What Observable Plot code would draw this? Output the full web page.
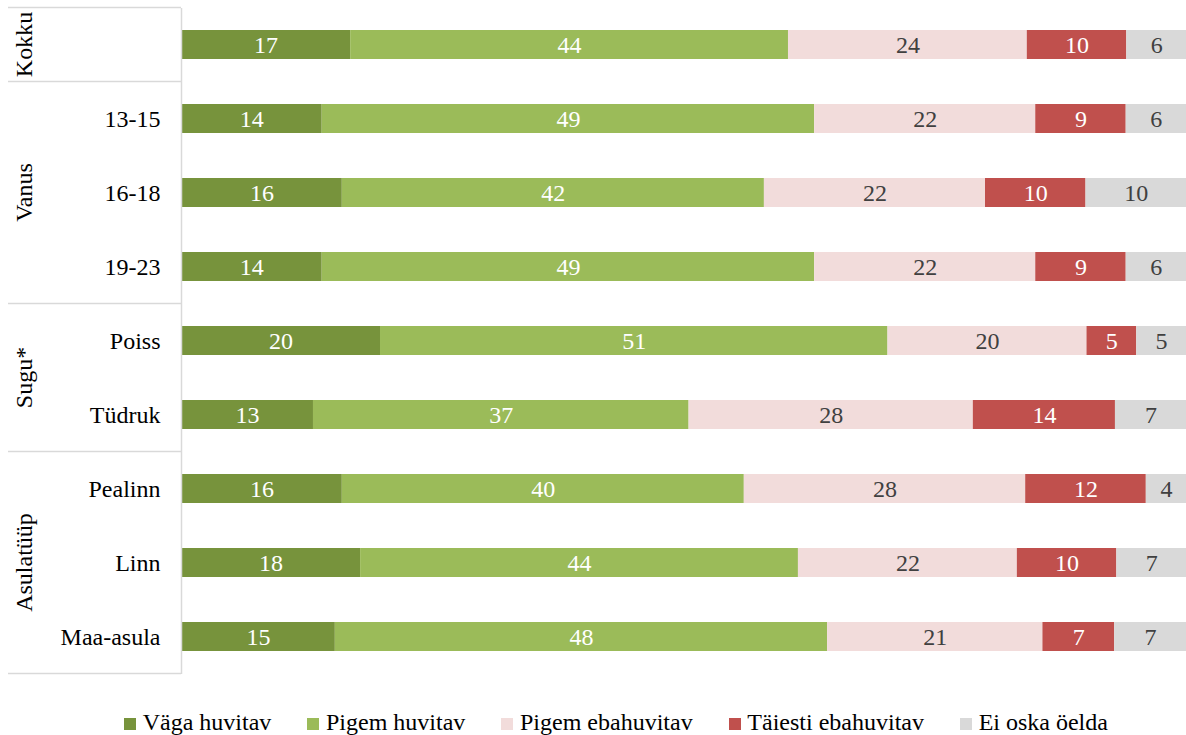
<!DOCTYPE html>
<html>
<head>
<meta charset="utf-8">
<script src="https://cdn.jsdelivr.net/npm/d3@7"></script>
<script src="https://cdn.jsdelivr.net/npm/@observablehq/plot@0.6"></script>
</head>
<body style="margin:0;padding:0;background:#fff;width:1186px;height:735px;overflow:hidden;font-family:'Liberation Serif'">
<div style="position:absolute;left:0;top:0;width:1px;height:0;overflow:hidden;font-family:'Liberation Serif';font-size:1px;color:#fff">.</div>
<div id="chart"></div>
<div id="legend"></div>
<script>
// ---- Data ----
const categories = ["Väga huvitav", "Pigem huvitav", "Pigem ebahuvitav", "Täiesti ebahuvitav", "Ei oska öelda"];
const colors = ["#77933C", "#9BBB59", "#F2DCDB", "#C0504D", "#D9D9D9"];
const labelColors = ["#FFFFFF", "#FFFFFF", "#404040", "#FFFFFF", "#404040"];

const rows = ["Kokku", "13-15", "16-18", "19-23", "Poiss", "Tüdruk", "Pealinn", "Linn", "Maa-asula"];
const groupNames = ["Kokku", "Vanus", "Sugu*", "Asulatüüp"];
const groupSizes = [1, 3, 2, 3];

const vagaHuvitav       = [17, 14, 16, 14, 20, 13, 16, 18, 15];
const pigemHuvitav      = [44, 49, 42, 49, 51, 37, 40, 44, 48];
const pigemEbahuvitav   = [24, 22, 22, 22, 20, 28, 28, 22, 21];
const taiestiEbahuvitav = [10,  9, 10,  9,  5, 14, 12, 10,  7];
const eiOskaOelda       = [ 6,  6, 10,  6,  5,  7,  4,  7,  7];

const series = [vagaHuvitav, pigemHuvitav, pigemEbahuvitav, taiestiEbahuvitav, eiOskaOelda];

// long table
const data = [];
rows.forEach((row, i) => {
  categories.forEach((cat, j) => {
    data.push({row, cat, ci: j, value: series[j][i]});
  });
});

const font = "Liberation Serif";
const stackOpts = {x: "value", y: "row", z: "cat", offset: "normalize", order: null};

const chart = Plot.plot({
  width: 1186,
  height: 710,
  marginLeft: 181,
  marginRight: 0,
  marginTop: 8,
  marginBottom: 36,
  style: {fontFamily: font, fontSize: "24px", color: "#000", background: "#fff", overflow: "visible"},
  x: {domain: [0, 1], axis: null},
  y: {domain: rows, paddingInner: 0.608, paddingOuter: 0.304, axis: null},
  color: {domain: categories, range: colors},
  marks: [
    Plot.barX(data, Plot.stackX({...stackOpts, fill: "cat"})),
    Plot.text(data, Plot.stackX({...stackOpts,
      text: d => labelColors[d.ci] === "#FFFFFF" ? String(d.value) : "",
      fill: "#FFFFFF", fontSize: 24})),
    Plot.text(data, Plot.stackX({...stackOpts,
      text: d => labelColors[d.ci] !== "#FFFFFF" ? String(d.value) : "",
      fill: "#404040", fontSize: 24})),
    Plot.ruleX([0], {stroke: "#D9D9D9", strokeWidth: 1.5}),
    Plot.axisY({tickSize: 0, tickPadding: 21, fontSize: 24,
      tickFormat: d => d === "Kokku" ? "" : d, label: null})
  ]
});
document.getElementById("chart").appendChild(chart);

// ---- Group separators and rotated group labels in the left margin ----
const ys = chart.scale("y");
const bw = ys.bandwidth;
const step = ys.step != null ? ys.step : bw / (1 - 0.608);
const half = (step - bw) / 2;
const svg = d3.select(chart);
const g = svg.append("g");
let start = 0;
const bounds = [];
groupNames.forEach((name, k) => {
  const first = rows[start], last = rows[start + groupSizes[k] - 1];
  const top = ys.apply(first) - half;
  const bottom = ys.apply(last) + bw + half;
  bounds.push(top);
  if (k === groupNames.length - 1) bounds.push(bottom);
  g.append("text")
    .attr("transform", `translate(24,${(top + bottom) / 2}) rotate(-90)`)
    .attr("text-anchor", "middle")
    .attr("dy", "0.32em")
    .attr("fill", "#000")
    .text(name);
  start += groupSizes[k];
});
bounds.forEach(yv => {
  g.append("line")
    .attr("x1", 8).attr("x2", 181)
    .attr("y1", yv).attr("y2", yv)
    .attr("stroke", "#D9D9D9").attr("stroke-width", 1.5);
});

// ---- Legend ----
const legend = d3.select("#legend")
  .style("display", "flex")
  .style("gap", "36px")
  .style("padding-left", "124px")
  .style("height", "25px")
  .style("line-height", "24px")
  .style("font-size", "24px")
  .style("font-family", font)
  .style("color", "#000")
  .style("white-space", "nowrap");
categories.forEach((c, i) => {
  const it = legend.append("div");
  it.append("span")
    .style("display", "inline-block")
    .style("width", "12px").style("height", "12px")
    .style("margin-right", "6.7px")
    .style("vertical-align", "baseline")
    .style("background", colors[i]);
  it.append("span").text(c);
});
</script>
</body>
</html>
